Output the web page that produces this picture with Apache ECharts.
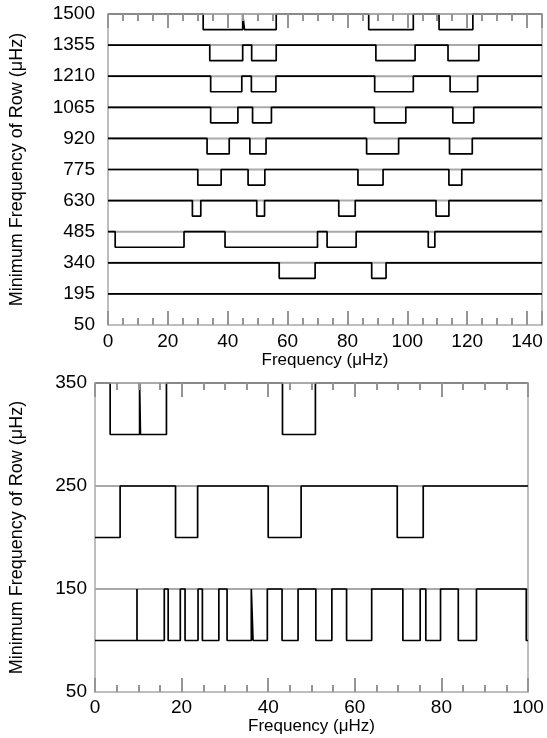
<!DOCTYPE html>
<html>
<head>
<meta charset="utf-8">
<script src="https://cdn.jsdelivr.net/npm/echarts@6/dist/echarts.min.js"></script>
<style>
  html, body { margin: 0; padding: 0; background: #ffffff; }
  #chart { width: 547px; height: 738px; }
</style>
</head>
<body>
<div id="chart"></div>
<script>
// top panel: rows 145 uHz wide, dips are [start, end] in uHz
const topRows = [1500, 1355, 1210, 1065, 920, 775, 630, 485, 340, 195];
const topDips = [
    [[31.8, 45.0], [45.6, 56.2], [87.1, 102.0], [110.6, 121.9]],
    [[34.0, 45.0], [48.0, 56.2], [89.5, 102.6], [113.6, 123.9]],
    [[34.3, 44.7], [47.9, 56.1], [89.1, 102.0], [114.3, 123.5]],
    [[34.3, 43.4], [48.3, 54.6], [89.0, 99.5], [115.2, 122.2]],
    [[33.1, 40.5], [47.4, 52.8], [86.4, 97.1], [114.1, 121.7]],
    [[30.0, 37.8], [46.8, 52.4], [83.5, 91.9], [113.9, 118.2]],
    [[28.2, 31.0], [49.7, 52.3], [77.1, 82.6], [109.6, 113.9]],
    [[2.4, 25.4], [39.1, 70.0], [73.2, 82.9], [107.0, 109.2]],
    [[57.2, 69.2], [88.1, 92.9]],
    []
];
const topDepth = 72.5;
const topXMax = 145;
const topYTicks = [50, 1500, 145]; // min, max, interval

// bottom panel: rows 100 uHz wide
const bottomRows = [350, 250, 150];
const bottomDips = [
    [[3.5, 10.3], [10.5, 16.5], [43.3, 50.9]],
    [[0, 5.8], [18.6, 23.7], [40.0, 47.6], [69.8, 75.8]],
    [[0, 9.7], [9.7, 16.0], [16.9, 19.7], [20.8, 23.8], [24.8, 28.6], [30.5, 36.1], [36.5, 39.8],
     [43.2, 46.9], [51.0, 54.7], [58.1, 63.9], [71.1, 75.1], [76.4, 79.8], [83.9, 88.1], [99.6, 100]]
];
const bottomDepth = 50;
const bottomXMax = 100;
const bottomYTicks = [50, 350, 100];

const gray = '#a9a9a9';
const tickGray = '#959595';
const fontFamily = 'Liberation Sans, Arial, sans-serif';

function rowPoints(base, depth, dips, xMax) {
    const pts = [];
    if (dips.length && dips[0][0] <= 0) {
        pts.push([0, base - depth]);
    } else {
        pts.push([0, base]);
    }
    dips.forEach(d => {
        if (d[0] > 0) {
            pts.push([d[0], base]);
            pts.push([d[0], base - depth]);
        }
        pts.push([d[1], base - depth]);
        if (d[1] < xMax) {
            pts.push([d[1], base]);
        }
    });
    const last = pts[pts.length - 1];
    if (last[0] < xMax) {
        pts.push([xMax, base]);
    }
    return pts;
}

function panelSeries(rows, dips, depth, xMax, xIndex, yIndex) {
    const out = [];
    rows.forEach((base, i) => {
        // gray baseline under each row
        out.push({
            type: 'line',
            xAxisIndex: xIndex,
            yAxisIndex: yIndex,
            data: [[0, base], [xMax, base]],
            showSymbol: false,
            clip: false,
            silent: true,
            z: 2,
            lineStyle: { color: gray, width: 2 }
        });
        out.push({
            type: 'line',
            xAxisIndex: xIndex,
            yAxisIndex: yIndex,
            data: rowPoints(base, depth, dips[i], xMax),
            showSymbol: false,
            clip: false,
            silent: true,
            z: 3,
            lineStyle: { color: '#000000', width: 1.7 }
        });
    });
    return out;
}

function xAxis(gridIndex, pos, xMax, labelMargin, showMax) {
    const axis = {
        type: 'value',
        gridIndex: gridIndex,
        position: pos,
        min: 0,
        max: xMax,
        interval: 20,
        z: 5,
        axisLine: { onZero: false, lineStyle: { color: gray, width: 1.5 } },
        axisTick: { show: true, inside: true, length: 14, lineStyle: { color: tickGray, width: 2 } },
        minorTick: { show: true, splitNumber: 4, length: 7, lineStyle: { color: tickGray, width: 2 } },
        splitLine: { show: false },
        axisLabel: { show: false }
    };
    if (pos === 'bottom') {
        axis.name = 'Frequency (\u03bcHz)';
        axis.nameLocation = 'middle';
        axis.nameGap = 25;
        axis.nameTextStyle = { color: '#000', fontSize: 17, fontFamily: fontFamily };
        axis.axisLabel = { show: true, color: '#000', fontSize: 19, fontFamily: fontFamily, margin: labelMargin, showMaxLabel: showMax };
    }
    return axis;
}

function yAxis(gridIndex, ticks, nameGap, labelMargin) {
    return {
        type: 'value',
        gridIndex: gridIndex,
        position: 'left',
        min: ticks[0],
        max: ticks[1],
        interval: ticks[2],
        name: 'Minimum Frequency of Row (\u03bcHz)',
        nameLocation: 'middle',
        nameGap: nameGap,
        nameTextStyle: { color: '#000', fontSize: 18, fontFamily: fontFamily },
        axisLine: { show: true, onZero: false, lineStyle: { color: gray, width: 1.5 } },
        axisTick: { show: false },
        splitLine: { show: false },
        axisLabel: {
            color: '#000', fontSize: 19, fontFamily: fontFamily, margin: labelMargin,
            formatter: v => String(v)
        }
    };
}

// plain right-hand frame line
function rightFrame(gridIndex, ticks) {
    return {
        type: 'value',
        gridIndex: gridIndex,
        position: 'right',
        min: ticks[0],
        max: ticks[1],
        interval: ticks[2],
        axisLine: { show: true, onZero: false, lineStyle: { color: gray, width: 1.5 } },
        axisTick: { show: false },
        axisLabel: { show: false },
        splitLine: { show: false }
    };
}

const option = {
    animation: false,
    backgroundColor: '#ffffff',
    grid: [
        { left: 100, top: 14, width: 442, height: 311 },
        { left: 87, top: 383, width: 441, height: 309 }
    ],
    xAxis: [
        xAxis(0, 'bottom', topXMax, 7, false),
        xAxis(0, 'top', topXMax, 7, false),
        xAxis(1, 'bottom', bottomXMax, 6, true),
        xAxis(1, 'top', bottomXMax, 6, true)
    ],
    yAxis: [
        yAxis(0, topYTicks, 82, 13),
        yAxis(1, bottomYTicks, 69, 8),
        rightFrame(0, topYTicks),
        rightFrame(1, bottomYTicks)
    ],
    series: panelSeries(topRows, topDips, topDepth, topXMax, 0, 0)
        .concat(panelSeries(bottomRows, bottomDips, bottomDepth, bottomXMax, 2, 1))
};

const chart = echarts.init(document.getElementById('chart'));
chart.setOption(option);
</script>
</body>
</html>
